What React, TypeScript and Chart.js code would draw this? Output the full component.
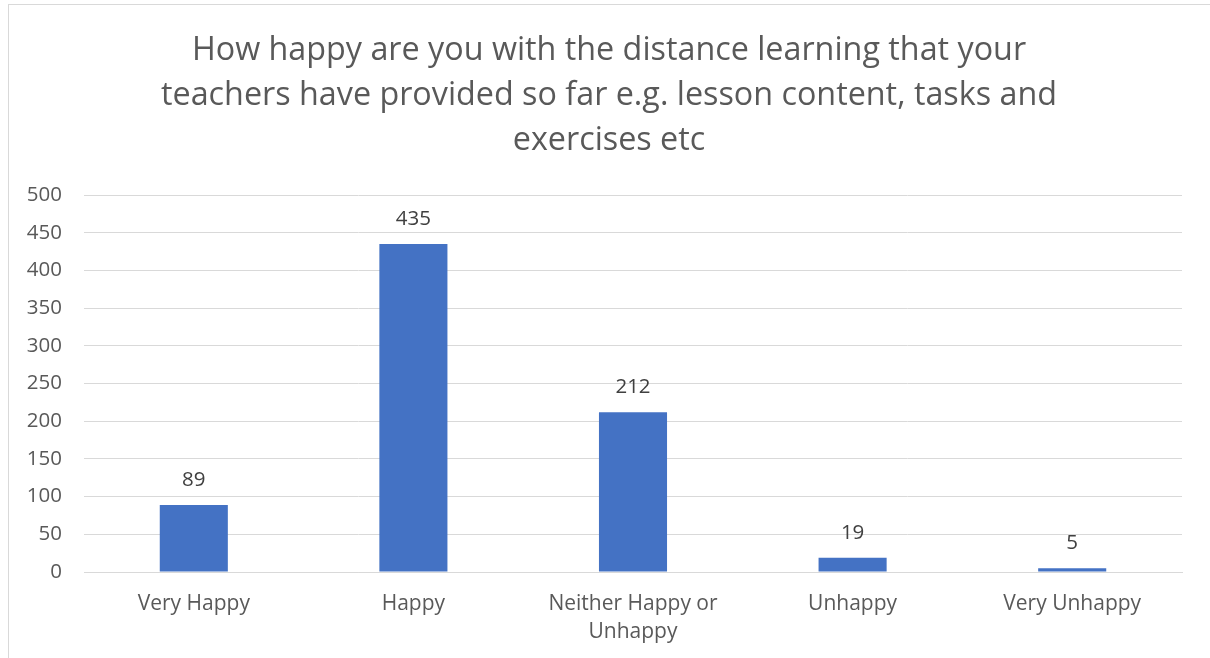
import React, { useEffect, useRef } from "react";
import { Chart, registerables } from "chart.js";

Chart.register(...registerables);

const titleLines = [
  "How happy are you with the distance learning that your",
  "teachers have provided so far e.g. lesson content, tasks and",
  "exercises etc",
];
const categories: (string | string[])[] = [
  "Very Happy",
  "Happy",
  ["Neither Happy or", "Unhappy"],
  "Unhappy",
  "Very Unhappy",
];
const counts = [89, 435, 212, 19, 5];
const yMin = 0;
const yMax = 500;
const yStep = 50;

const W = 1200;
const H = 652;

const dataLabels = {
  id: "dataLabels",
  afterDatasetsDraw(chart: any) {
    const ctx = chart.ctx;
    const meta = chart.getDatasetMeta(0);
    ctx.save();
    ctx.font = "20.5px 'Open Sans'";
    ctx.fillStyle = "#404040";
    ctx.textAlign = "center";
    ctx.textBaseline = "alphabetic";
    meta.data.forEach((bar: any, i: number) => {
      ctx.fillText(String(counts[i]), bar.x, bar.y - 19);
    });
    ctx.restore();
  },
};

export default function App() {
  const ref = useRef<HTMLCanvasElement>(null);
  useEffect(() => {
    if (!ref.current) return;
    const chart = new Chart(ref.current, {
      type: "bar",
      data: {
        labels: categories,
        datasets: [
          {
            data: counts,
            backgroundColor: "#4472C4",
            barPercentage: 0.31,
            categoryPercentage: 1,
          },
        ],
      },
      options: {
        responsive: false,
        animation: false,
        layout: { padding: { left: 0, right: 0, top: 0, bottom: 0 } },
        plugins: {
          legend: { display: false },
          tooltip: { enabled: false },
          title: {
            display: true,
            text: titleLines,
            color: "#595959",
            font: { family: "'Open Sans'", size: 32.3, weight: "normal", lineHeight: 45 / 32.3 },
            padding: { top: 23, bottom: 32 },
          },
        },
        scales: {
          x: {
            grid: { display: false, drawTicks: false },
            border: { display: true, color: "#d9d9d9", width: 1 },
            ticks: {
              color: "#595959",
              font: { family: "'Open Sans'", size: 21, lineHeight: 28 / 21 },
              padding: 18,
              maxRotation: 0,
              autoSkip: false,
            },
            afterFit: (s: any) => {
              s.height = 85;
            },
          },
          y: {
            min: yMin,
            max: yMax,
            grid: { color: "#d9d9d9", drawTicks: false },
            border: { display: false },
            ticks: {
              stepSize: yStep,
              color: "#595959",
              font: { family: "'Open Sans'", size: 20.5 },
              padding: 22,
            },
            afterFit: (s: any) => {
              s.width = 75;
            },
          },
          yRight: {
            position: "right",
            display: true,
            grid: { display: false, drawTicks: false },
            border: { display: false },
            ticks: { display: false },
            afterFit: (s: any) => {
              s.width = 27;
            },
          },
        },
      },
      plugins: [dataLabels],
    });
    return () => chart.destroy();
  }, []);
  return (
    <div
      style={{
        position: "absolute",
        left: 8,
        top: 4,
        width: W + 20,
        height: H + 20,
        border: "1px solid #d9d9d9",
        background: "#fff",
      }}
    >
      <canvas ref={ref} width={W} height={H} style={{ display: "block" }} />
    </div>
  );
}
